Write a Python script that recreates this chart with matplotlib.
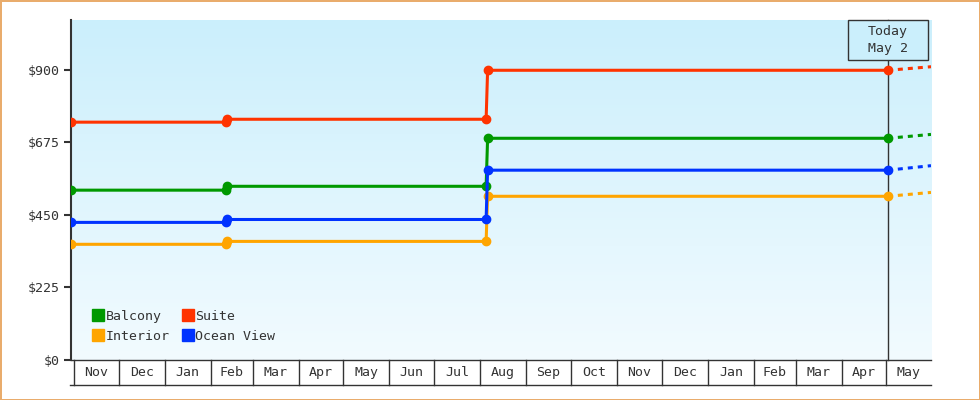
import numpy as np
import matplotlib
matplotlib.use('Agg')
import matplotlib.pyplot as plt
import matplotlib.dates as mdates
import matplotlib.transforms as mtransforms
from matplotlib.lines import Line2D
from matplotlib.patches import Rectangle
from datetime import datetime

# Data
dates = ['2021-10-30', '2022-02-11', '2022-02-12', '2022-08-05', '2022-08-06', '2023-05-02']
balcony = [527, 527, 539, 539, 688, 688]
interior = [359, 359, 368, 368, 508, 508]
suite = [738, 738, 747, 747, 899, 899]
ocean_view = [427, 427, 436, 436, 589, 589]

forecast_date = '2023-05-31'
forecast = {'Balcony': 700, 'Interior': 520, 'Suite': 910, 'Ocean View': 603}

today = '2023-05-02'
today_label = 'Today\nMay 2'

month_starts = ['2021-11-01', '2021-12-01', '2022-01-01', '2022-02-01', '2022-03-01',
                '2022-04-01', '2022-05-01', '2022-06-01', '2022-07-01', '2022-08-01',
                '2022-09-01', '2022-10-01', '2022-11-01', '2022-12-01', '2023-01-01',
                '2023-02-01', '2023-03-01', '2023-04-01', '2023-05-01']
month_labels = ['Nov', 'Dec', 'Jan', 'Feb', 'Mar', 'Apr', 'May', 'Jun', 'Jul', 'Aug',
                'Sep', 'Oct', 'Nov', 'Dec', 'Jan', 'Feb', 'Mar', 'Apr', 'May']

y_ticks = [0, 225, 450, 675, 900]
y_tick_labels = ['$0', '$225', '$450', '$675', '$900']

x_min, x_max = '2021-10-30', '2023-05-31'
y_max = 1055

series = [('Balcony', balcony, '#009900'),
          ('Interior', interior, '#ffa500'),
          ('Suite', suite, '#ff3300'),
          ('Ocean View', ocean_view, '#0033ff')]

def d(s):
    return mdates.date2num(datetime.strptime(s, '%Y-%m-%d'))

plt.rcParams['font.family'] = ['DejaVu Sans Mono']
plt.rcParams['font.size'] = 9.5
dark = '#333333'

fig = plt.figure(figsize=(9.8, 4), dpi=100)
fig.patch.set_facecolor('white')
fig.patch.set_edgecolor('#e9ac6c')
fig.patch.set_linewidth(2)

ax = fig.add_axes([71/980, 40/400, 860/980, 340/400])
ax.set_xlim(d(x_min), d(x_max))
ax.set_ylim(0, y_max)

# gradient background
grad = np.linspace(0, 1, 256).reshape(-1, 1)
top = np.array([203, 239, 252]) / 255
bot = np.array([242, 251, 255]) / 255
img = top[None, None, :] * (1 - grad[:, :, None]) + bot[None, None, :] * grad[:, :, None]
ax.imshow(img, extent=[0, 1, 0, 1], transform=ax.transAxes, aspect='auto', zorder=0)

# forecast dashes: blank gap after today's marker, then short even dashes
fc_dash = (0, (0.001, 3.28, 1.64, 1.64, 1.64, 1.64, 1.64, 1.64, 1.64, 1.64))

xd = [d(s) for s in dates]
for name, vals, c in series:
    ax.plot(xd, vals, '-o', color=c, lw=2.2, ms=6, zorder=3, solid_capstyle='butt')
    ax.plot([d(today), d(forecast_date)], [vals[-1], forecast[name]], color=c, lw=2.2,
            linestyle=fc_dash, zorder=3, dash_capstyle='butt')

# today marker
trans_t = mtransforms.blended_transform_factory(ax.transData, ax.transAxes)
ax.plot([d(today), d(today)], [0, 1], transform=trans_t, color=dark, lw=1, zorder=2, clip_on=False)
ax.add_patch(Rectangle((d(today) - 40/1.49, 1 - 40/340), 80/1.49, 40/340, transform=trans_t,
                       facecolor='#cbeffc', edgecolor=dark, lw=1, zorder=4, clip_on=False))
ax.text(d(today), 1 - 20/340, today_label, transform=trans_t, ha='center', va='center',
        color=dark, zorder=5, linespacing=1.45)

# y axis
ax.set_yticks(y_ticks)
ax.set_yticklabels(y_tick_labels, color=dark)
ax.tick_params(axis='y', length=5, width=1.5, color=dark, pad=3)
ax.set_xticks([])
for s in ['top', 'right']:
    ax.spines[s].set_visible(False)
ax.spines['left'].set_color(dark)
ax.spines['left'].set_linewidth(1.5)
ax.spines['bottom'].set_color(dark)
ax.spines['bottom'].set_linewidth(1)

# month boxes below the axis
trans_m = mtransforms.blended_transform_factory(ax.transData, ax.transAxes)
box_h = 25 / 340
ax.plot([d(x_min) - 1/1.49, d(x_max)], [-box_h, -box_h], transform=trans_m, color=dark, lw=1, clip_on=False)
edges = [d(s) for s in month_starts] + [d(x_max)]
for i, lab in enumerate(month_labels):
    ax.plot([edges[i], edges[i]], [0, -box_h], transform=trans_m, color=dark, lw=1, clip_on=False)
    ax.text((edges[i] + edges[i + 1]) / 2, -box_h / 2, lab, transform=trans_m,
            ha='center', va='center', color=dark)

# legend
handles = [Line2D([], [], marker='s', ls='none', color=c, ms=8, label=n) for n, v, c in series]
ax.legend(handles=handles, ncol=2, loc='lower left', bbox_to_anchor=(0.012, 0.02), frameon=False,
          handlelength=0.9, handletextpad=0.15, labelspacing=0.5, columnspacing=0.9,
          borderpad=0.3, labelcolor=dark)

fig.savefig('out.png', dpi=100, facecolor=fig.get_facecolor(), edgecolor=fig.get_edgecolor())
